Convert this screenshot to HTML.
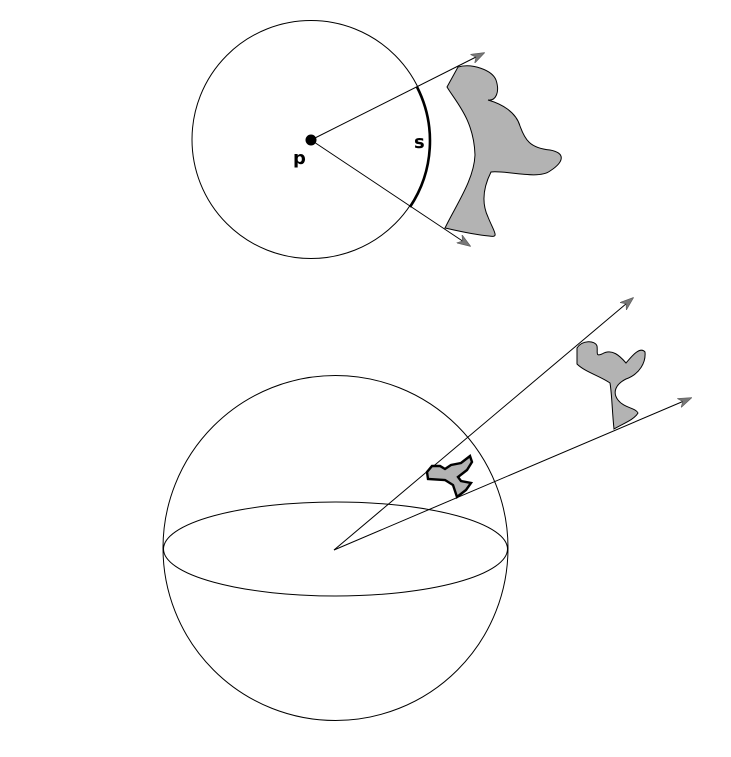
<!DOCTYPE html>
<html><head><meta charset="utf-8"><style>
html,body{margin:0;padding:0;background:#fff;}
svg{display:block;}
</style></head><body>
<svg width="731" height="757" viewBox="0 0 731 757" xmlns="http://www.w3.org/2000/svg">
<defs>
<marker id="ah" markerWidth="14" markerHeight="10" refX="13" refY="5" orient="auto" markerUnits="userSpaceOnUse">
<path d="M0,0 L14,5 L0,10 L4,5 Z" fill="#777" stroke="#555" stroke-width="0.6"/>
</marker>
</defs>
<g fill="none" stroke="#000">
<circle cx="311" cy="139.5" r="119" stroke-width="1"/>
<path d="M417,87 A119,119 0 0 1 410,207" stroke-width="2.6"/>
<path fill="#b3b3b3" stroke-width="1" d="M458,67 C472,63 492,70 496,80 C500,92 496,101 488,100 C502,104 516,112 520,126 C525,140 530,148 550,150 C566,153 564,162 550,171 C538,180 505,170 491,172 C484,186 481,202 488,217 C494,232 500,238 489,236 C475,235 458,231 445,228 C456,205 474,180 475,155 C474,120 456,102 447,87 Z"/>
<line x1="311" y1="140" x2="484" y2="53" stroke-width="1" marker-end="url(#ah)"/>
<line x1="311" y1="140" x2="470" y2="246" stroke-width="1" marker-end="url(#ah)"/>
<circle cx="311" cy="140" r="5" fill="#000"/>
</g>
<text x="293" y="164" font-family="DejaVu Sans, Liberation Sans, sans-serif" font-weight="bold" font-size="18">p</text>
<text x="414" y="148" font-family="DejaVu Sans, Liberation Sans, sans-serif" font-weight="bold" font-size="18">s</text>
<g fill="none" stroke="#000" stroke-width="1">
<circle cx="335.5" cy="548" r="172.5"/>
<ellipse cx="335.5" cy="549" rx="172" ry="47"/>
<path fill="#b3b3b3" d="M577,348 C582,340 595,340 597,346 C598,352 595,357 602,354 C612,348 620,356 626,363 C632,356 640,346 645,352 C646,362 640,374 626,379 C616,384 612,392 618,400 C624,408 636,408 638,413 C634,420 622,424 614,429 C612,410 612,395 610,383 C600,376 585,372 577,364 Z"/>
<line x1="334" y1="550" x2="633" y2="298" marker-end="url(#ah)"/>
<line x1="334" y1="550" x2="691" y2="398" marker-end="url(#ah)"/>
<path fill="#b3b3b3" stroke-width="2.4" d="M427,472 L432,466 L440,466 L445,469 L451,465 L461,463 L470,456 L472,462 L467,470 L458,477 L461,481 L471,483 L466,490 L457,497 L453,485 L445,480 L428,479 Z"/>
</g>
</svg>
</body></html>
